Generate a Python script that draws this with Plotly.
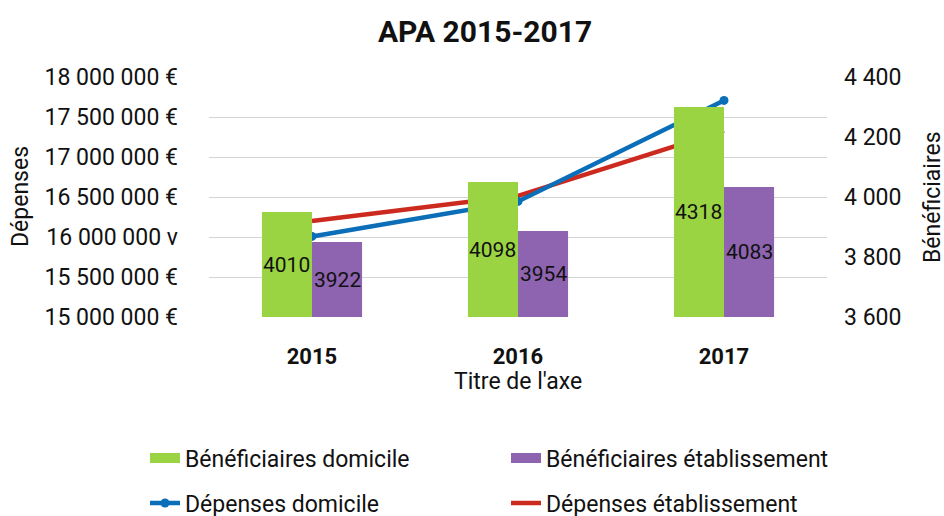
import plotly.graph_objects as go

years = ["2015", "2016", "2017"]
benef_domicile = [4010, 4098, 4318]
benef_etablissement = [3922, 3954, 4083]
dep_domicile = [16007000, 16445000, 17707000]
dep_etablissement = [16200000, 16515000, 17330000]

left_tickvals = [15000000, 15500000, 16000000, 16500000, 17000000, 17500000, 18000000]
left_ticktext = ["15 000 000 €", "15 500 000 €", "16 000 000 v", "16 500 000 €",
                 "17 000 000 €", "17 500 000 €", "18 000 000 €"]
right_tickvals = [3600, 3800, 4000, 4200, 4400]

GREEN = "#9BD443"
PURPLE = "#8E64B0"
BLUE = "#0A6EB8"
RED = "#CD2A1F"
FONT = "Roboto"
TXT = "#111111"

BAR_AXIS_MIN, BAR_AXIS_MAX = 3702, 4406
BARGAP = 0.514

fig = go.Figure()

fig.add_trace(go.Bar(
    x=years, y=benef_domicile, name="Bénéficiaires domicile", yaxis="y3",
    marker=dict(color=GREEN, line=dict(width=0)), showlegend=False, hoverinfo="skip",
))
fig.add_trace(go.Bar(
    x=years, y=benef_etablissement, name="Bénéficiaires établissement", yaxis="y3",
    marker=dict(color=PURPLE, line=dict(width=0)), showlegend=False, hoverinfo="skip",
))
# invisible trace so the right axis is drawn
fig.add_trace(go.Scatter(x=years, y=[None, None, None], yaxis="y2", mode="lines",
                         showlegend=False, hoverinfo="skip"))
fig.add_trace(go.Scatter(
    x=years, y=dep_etablissement, name="Dépenses établissement", yaxis="y",
    mode="lines", line=dict(color=RED, width=4.5), legend="legend2",
))
fig.add_trace(go.Scatter(
    x=years, y=dep_domicile, name="Dépenses domicile", yaxis="y",
    mode="lines+markers", line=dict(color=BLUE, width=4.5),
    marker=dict(color=BLUE, size=9), legend="legend2",
))

# legend-only proxies for the bars (wide colour swatches)
fig.add_trace(go.Scatter(x=[None], y=[None], mode="lines", name="Bénéficiaires domicile",
                         line=dict(color=GREEN, width=11), legend="legend", yaxis="y3"))
fig.add_trace(go.Scatter(x=[None], y=[None], mode="lines", name="Bénéficiaires établissement",
                         line=dict(color=PURPLE, width=11), legend="legend", yaxis="y3"))

L, R, T, B = 209, 117, 77, 199
W, H = 944, 516
pw = W - L - R
ph = H - T - B

def px_x(p):
    return (p - L) / pw

def px_y(p):
    return (H - B - p) / ph

# data labels inside bars
half = (1 - BARGAP) / 4
annotations = []
for i, (vd, ve) in enumerate(zip(benef_domicile, benef_etablissement)):
    for off, v in ((-half, vd), (half, ve)):
        annotations.append(dict(
            text=f"{v}", x=i + off, xref="x", y=(BAR_AXIS_MIN + v) / 2, yref="y3",
            showarrow=False, xanchor="center", yanchor="middle",
            font=dict(family=FONT, size=21, color=TXT)))

annotations += [
    dict(text="Dépenses", textangle=-90, xref="paper", yref="paper",
         x=px_x(20), y=0.5, showarrow=False, xanchor="center", yanchor="middle",
         font=dict(family=FONT, size=23, color=TXT)),
    dict(text="Bénéficiaires", textangle=-90, xref="paper", yref="paper",
         x=px_x(932), y=0.5, showarrow=False, xanchor="center", yanchor="middle",
         font=dict(family=FONT, size=23, color=TXT)),
    dict(text="Titre de l'axe", xref="paper", yref="paper",
         x=0.5, y=px_y(381), showarrow=False, xanchor="center", yanchor="middle",
         font=dict(family=FONT, size=23, color=TXT)),
]

fig.update_layout(
    width=W, height=H,
    margin=dict(l=L, r=R, t=T, b=B, pad=0, autoexpand=False),
    paper_bgcolor="white", plot_bgcolor="white",
    font=dict(family=FONT, size=23, color=TXT),
    separators=", ",
    barmode="group", bargap=BARGAP, bargroupgap=0,
    title=dict(text="<b>APA 2015-2017</b>", font=dict(family=FONT, size=30, color=TXT),
               xref="container", x=485 / W, xanchor="center",
               yref="container", y=1 - 31 / H, yanchor="middle"),
    xaxis=dict(type="category", showgrid=False, showline=False, ticks="",
               tickfont=dict(family=FONT, size=22, color=TXT, weight="bold"),
               ticklabelstandoff=24, automargin=False),
    yaxis=dict(range=[15000000, 18000000], tickvals=left_tickvals, ticktext=left_ticktext,
               showgrid=True, gridcolor="#D4D4D4", gridwidth=1.3, zeroline=False,
               showline=False, ticks="", ticklabelstandoff=30, automargin=False,
               tickfont=dict(family=FONT, size=23, color=TXT)),
    yaxis2=dict(range=[3600, 4400], tickvals=right_tickvals, tickformat=",d",
                overlaying="y", side="right", showgrid=False, zeroline=False,
                showline=False, ticks="", ticklabelstandoff=16, automargin=False,
                tickfont=dict(family=FONT, size=23, color=TXT)),
    yaxis3=dict(range=[BAR_AXIS_MIN, BAR_AXIS_MAX], overlaying="y", visible=False,
                showgrid=False),
    legend=dict(orientation="h", x=px_x(145), xanchor="left", y=px_y(458), yanchor="middle",
                entrywidth=316, entrywidthmode="pixels",
                font=dict(family=FONT, size=23, color=TXT), bgcolor="rgba(0,0,0,0)",
                traceorder="normal"),
    legend2=dict(orientation="h", x=px_x(145), xanchor="left", y=px_y(503), yanchor="middle",
                 entrywidth=316, entrywidthmode="pixels",
                 font=dict(family=FONT, size=23, color=TXT), bgcolor="rgba(0,0,0,0)",
                 traceorder="reversed"),
    annotations=annotations,
)

fig.write_html("out.html", config={"displayModeBar": False},
               post_script="document.body.style.margin='0px';document.body.style.overflow='hidden';")
